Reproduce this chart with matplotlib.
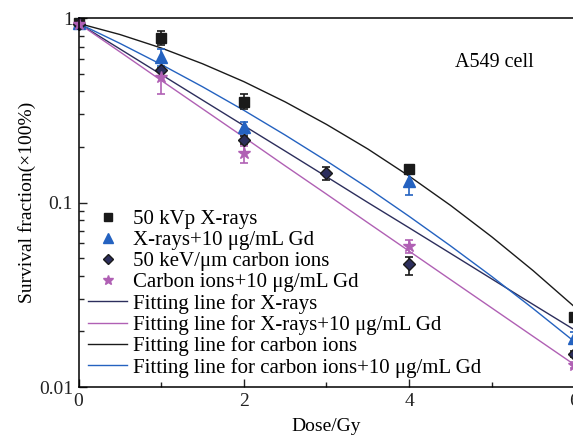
# survival fraction of A549 cells vs dose, with fitting lines

import matplotlib
matplotlib.use("Agg")
import matplotlib.pyplot as plt
from matplotlib.ticker import FixedLocator, NullFormatter, FuncFormatter

# measured points
dose_x = [0, 1, 2, 4, 6]
sf_x = [0.94, 0.78, 0.352, 0.151, 0.024]
sf_x_lo = [0.93, 0.71, 0.32, 0.142, 0.0232]
sf_x_hi = [0.95, 0.85, 0.387, 0.156, 0.0248]

dose_xgd = [0, 1, 2, 4, 6]
sf_xgd = [0.94, 0.612, 0.257, 0.130, 0.0185]
sf_xgd_lo = [0.93, 0.55, 0.235, 0.110, 0.0172]
sf_xgd_hi = [0.95, 0.677, 0.274, 0.144, 0.0198]

dose_c = [0, 1, 2, 3, 4, 6]
sf_c = [0.93, 0.523, 0.218, 0.144, 0.0464, 0.0151]
sf_c_lo = [0.92, 0.51, 0.208, 0.133, 0.0405, 0.0145]
sf_c_hi = [0.94, 0.536, 0.228, 0.155, 0.0504, 0.0157]

dose_cgd = [0, 1, 2, 4, 6]
sf_cgd = [0.93, 0.481, 0.186, 0.058, 0.0132]
sf_cgd_lo = [0.92, 0.385, 0.1645, 0.0533, 0.0127]
sf_cgd_hi = [0.94, 0.575, 0.2025, 0.0627, 0.0137]

# fitting lines, read every 0.5 Gy
fit_dose = [0, 0.5, 1, 1.5, 2, 2.5, 3, 3.5, 4, 4.5, 5, 5.5, 6]
fit_x = [0.935, 0.680, 0.494, 0.359, 0.261, 0.190, 0.138, 0.100, 0.0729, 0.0530, 0.0385, 0.0280, 0.0204]
fit_xgd = [0.935, 0.656, 0.459, 0.322, 0.226, 0.158, 0.111, 0.0777, 0.0545, 0.0382, 0.0268, 0.0188, 0.0132]
fit_c = [0.935, 0.814, 0.688, 0.565, 0.452, 0.351, 0.265, 0.195, 0.139, 0.0965, 0.0651, 0.0427, 0.0272]
fit_cgd = [0.935, 0.729, 0.560, 0.424, 0.316, 0.232, 0.168, 0.120, 0.0841, 0.0582, 0.0397, 0.0266, 0.0176]

labels = ["50 kVp X-rays", "X-rays+10 \u03bcg/mL Gd", "50 keV/\u03bcm carbon ions",
          "Carbon ions+10 \u03bcg/mL Gd", "Fitting line for X-rays",
          "Fitting line for X-rays+10 \u03bcg/mL Gd", "Fitting line for carbon ions",
          "Fitting line for carbon ions+10 \u03bcg/mL Gd"]

BLACK = "#1a1a1a"
BLUE = "#2462c0"
NAVY = "#2c2e5c"
PURPLE = "#b060b4"


def errs(v, lo, hi):
    return [[a - b for a, b in zip(v, lo)], [b - a for a, b in zip(v, hi)]]


def main():
    plt.rcParams['font.family'] = ['Liberation Serif', 'DejaVu Serif']

    fig = plt.figure(figsize=(5.73, 4.37), dpi=100)
    ax = fig.add_axes([78.5/573, 50/437, 496/573, 369/437])

    h5, = ax.plot(fit_dose, fit_x, color=NAVY, lw=1.0)
    h6, = ax.plot(fit_dose, fit_xgd, color=PURPLE, lw=1.0)
    h7, = ax.plot(fit_dose, fit_c, color=BLACK, lw=1.0)
    h8, = ax.plot(fit_dose, fit_cgd, color=BLUE, lw=1.0)

    kw = dict(ls="none", capsize=3, elinewidth=1.2, capthick=1.2, clip_on=False)
    h1 = ax.errorbar(dose_x, sf_x, yerr=errs(sf_x, sf_x_lo, sf_x_hi), marker="s", ms=7,
                     color=BLACK, **kw)
    h2 = ax.errorbar(dose_xgd, sf_xgd, yerr=errs(sf_xgd, sf_xgd_lo, sf_xgd_hi), marker="^", ms=8,
                     color=BLUE, **kw)
    h3 = ax.errorbar(dose_c, sf_c, yerr=errs(sf_c, sf_c_lo, sf_c_hi), marker="D", ms=6.5,
                     color=BLACK, mfc=NAVY, mec=BLACK, **kw)
    h4 = ax.errorbar(dose_cgd, sf_cgd, yerr=errs(sf_cgd, sf_cgd_lo, sf_cgd_hi), marker="*", ms=9,
                     color=PURPLE, **kw)

    ax.set_yscale("log")
    ax.set_xlim(0, 6)
    ax.set_ylim(0.01, 1)
    ax.xaxis.set_major_locator(FixedLocator([0, 2, 4, 6]))
    ax.xaxis.set_minor_locator(FixedLocator([1, 3, 5]))
    ax.yaxis.set_major_locator(FixedLocator([0.01, 0.1, 1]))
    ax.yaxis.set_major_formatter(FuncFormatter(lambda v, p: "%g" % v))
    ax.yaxis.set_minor_locator(FixedLocator([m * 10.0**e for e in (-2, -1) for m in range(2, 10)]))
    ax.yaxis.set_minor_formatter(NullFormatter())
    ax.tick_params(which="both", direction="in", labelsize=14, colors="#222222", width=1)
    ax.tick_params(which="major", length=6)
    ax.tick_params(which="minor", length=3.5)
    ax.tick_params(axis="x", pad=4)
    ax.tick_params(axis="y", pad=4)
    for s in ax.spines.values():
        s.set_linewidth(1.1)

    ax.set_xlabel("Dose/Gy", fontsize=14, labelpad=6)
    ax.set_ylabel("Survival fraction(\u00d7100%)", fontsize=14, labelpad=2)
    ax.text(0.76, 0.88, "A549 cell", transform=ax.transAxes, fontsize=14.5, va="center")

    # marker-only handles for the data, as in the reference
    ax.legend([h1[0], h2[0], h3[0], h4[0], h5, h6, h7, h8], labels, loc="lower left",
              bbox_to_anchor=(0.0, 0.0), frameon=False, fontsize=15,
              handlelength=1.9, handletextpad=0.25, labelspacing=0.07, borderaxespad=0.05,
              markerscale=0.85)

    fig.savefig("out.png", dpi=100)


if __name__ == "__main__":
    main()
